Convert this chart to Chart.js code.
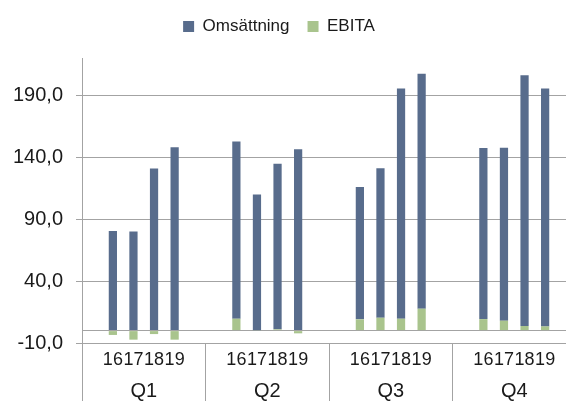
<!DOCTYPE html>
<html><head><meta charset="utf-8">
<script src="https://cdn.jsdelivr.net/npm/chart.js@4"></script>
<style>html,body{margin:0;padding:0;overflow:hidden;background:#fff;width:566px;height:401px}#c{position:absolute;left:0;top:0}</style>
</head><body><canvas id="c" width="576" height="420"></canvas>
<script>
const quarters = ['Q1','Q2','Q3','Q4'];
const years = ['16','17','18','19'];
const omsattning = [80.3,80.0,130.8,148.0, 143.0,109.5,133.6,146.4, 106.7,120.7,185.7,189.5, 138.0,139.5,202.4,191.9];
const ebita = [-3.5,-7.3,-2.8,-7.3, 9.6,0.3,1.0,-2.2, 9.1,10.4,9.6,17.7, 9.3,8.0,3.7,3.4];
const yTickValues = [-10,0,40,90,140,190];

// build 6 slots per quarter: spacer, 4 years, spacer
const SLOTS = years.length + 2;
const slotLabels = [], omsSlots = [], ebitaSlots = [];
quarters.forEach((q, qi) => {
  slotLabels.push(''); omsSlots.push(null); ebitaSlots.push(null);
  years.forEach((y, yi) => {
    slotLabels.push(y);
    omsSlots.push(omsattning[qi*4+yi]);
    ebitaSlots.push(ebita[qi*4+yi]);
  });
  slotLabels.push(''); omsSlots.push(null); ebitaSlots.push(null);
});

const FONT = 'Liberation Sans';
const GRID = '#a3a3a3';
const TEXT = '#1a1a1a';

const layoutFix = {
  id: 'layoutFix',
  afterInit(chart) {
    const lg = chart.legend;
    const orig = lg.fit;
    lg.fit = function() { orig.call(this); this.height = 58; };
  },
  afterLayout(chart) {
    chart.legend.left -= 9;
    chart.legend.right -= 9;
  }
};

new Chart(document.getElementById('c'), {
  type: 'bar',
  data: {
    labels: slotLabels,
    datasets: [
      { label: 'Omsättning', data: omsSlots, backgroundColor: '#586c8c', order: 2, stack: 's',
        barPercentage: 0.4, categoryPercentage: 1.0 },
      { label: 'EBITA', data: ebitaSlots, backgroundColor: '#a9c48d', order: 1, stack: 's',
        barPercentage: 0.4, categoryPercentage: 1.0 }
    ]
  },
  options: {
    responsive: false,
    animation: false,
    devicePixelRatio: 1,
    layout: { padding: { top: 0, left: 0, right: 0, bottom: 0 } },
    plugins: {
      legend: {
        position: 'top',
        labels: { boxWidth: 11, boxHeight: 11, padding: 18, color: TEXT,
                  font: { family: FONT, size: 17 },
                  sort: (a, b) => a.datasetIndex - b.datasetIndex }
      },
      tooltip: { enabled: false }
    },
    scales: {
      x: {
        stacked: true,
        offset: true,
        grid: { offset: true, drawOnChartArea: false, drawTicks: true, tickLength: 32,
                color: c => (c.index % SLOTS === 0) ? GRID : 'rgba(0,0,0,0)' },
        border: { display: true, color: GRID },
        ticks: { autoSkip: false, maxRotation: 0, minRotation: 0, padding: -25.8,
                 color: TEXT, font: { family: FONT, size: 18 } },
        afterFit: s => { s.height = 32; }
      },
      xq: {
        type: 'category',
        labels: quarters,
        position: 'bottom',
        offset: true,
        grid: { offset: true, drawOnChartArea: false, drawTicks: true, tickLength: 45, color: GRID },
        border: { display: false },
        ticks: { padding: -40.5, color: TEXT, font: { family: FONT, size: 20 } },
        afterFit: s => { s.height = 45; }
      },
      y: {
        stacked: true,
        min: -10,
        max: 220,
        afterBuildTicks: s => { s.ticks = yTickValues.map(v => ({ value: v })); },
        grid: { color: GRID, tickLength: 6,
                tickColor: c => (c.tick && c.tick.value === 0) ? 'rgba(0,0,0,0)' : GRID },
        border: { display: true, color: GRID },
        ticks: { padding: 13, color: TEXT, font: { family: FONT, size: 20 },
                 callback: v => v === 0 ? '' : v.toFixed(1).replace('.', ',') },
        afterFit: s => { s.width = 82; }
      }
    }
  },
  plugins: [layoutFix]
});
</script>
</body></html>
